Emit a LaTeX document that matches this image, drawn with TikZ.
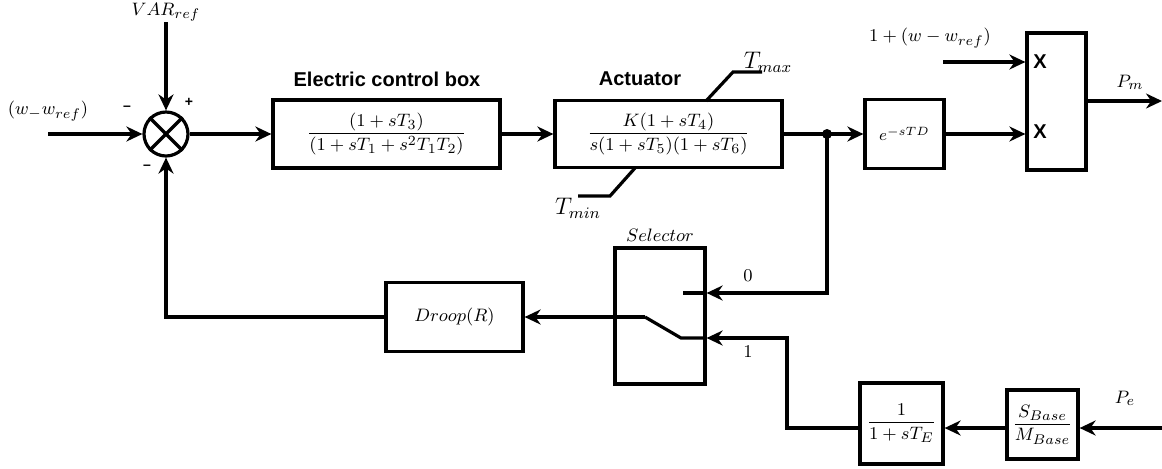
\documentclass[tikz,border=0pt]{standalone}
\usepackage{amsmath}
\usepackage{fontspec}
\setsansfont{Liberation Sans}
\usetikzlibrary{arrows.meta}

\begin{document}
\begin{tikzpicture}[x=0.5pt,y=-0.5pt,line width=1.6pt]
        \tikzset{block/.style = {draw,rectangle,inner sep=0pt,font=\fontsize{9.5}{11}\selectfont}}
        \tikzset{sumnode/.style = {draw,circle,minimum size=22pt,inner sep=0pt}}
        \tikzset{title/.style = {font=\sffamily\bfseries\fontsize{10}{12}\selectfont}}
        \tikzset{sign/.style = {font=\sffamily\bfseries\fontsize{7}{8}\selectfont,inner sep=0pt}}
        \tikzset{lbl/.style = {font=\fontsize{9.5}{11}\selectfont,inner sep=0pt}}
        \tikzset{sig/.style = {-{Stealth[length=8pt,width=7.5pt]}}}
        \useasboundingbox (0,0) rectangle (1162,468);

        % blocks
        \node[sumnode] (sum) at (166,134) {};
        \node[block,minimum width=113.5pt,minimum height=34pt] (ecb) at (386.5,134) {$\dfrac{(1+sT_3)}{(1+sT_1+s^2T_1T_2)}$};
        \node[block,minimum width=113.5pt,minimum height=33.5pt] (act) at (668.5,134) {$\dfrac{K(1+sT_4)}{s(1+sT_5)(1+sT_6)}$};
        \node[block,minimum width=39.5pt,minimum height=34.5pt,font=\fontsize{8}{10}\selectfont] (delay) at (904.5,134) {$e^{-sTD}$};
        \node[block,minimum width=29.5pt,minimum height=68.5pt] (mult) at (1056.5,101.5) {};
        \node[block,minimum width=45pt,minimum height=68pt] (sel) at (660,316) {};
        \node[block,minimum width=68.5pt,minimum height=34.5pt] (droop) at (454.5,317) {$Droop(R)$};
        \node[block,minimum width=41.5pt,minimum height=40.5pt] (te) at (901.5,423.5) {$\dfrac{1}{1+sT_E}$};
        \node[block,minimum width=35.5pt,minimum height=34.5pt] (sbase) at (1042.5,424.5) {$\dfrac{S_{Base}}{M_{Base}}$};
        \draw (sum.north west) -- (sum.south east);
        \draw (sum.north east) -- (sum.south west);

        % labels
        \node[title] (ecbname) at (387,79) {Electric control box};
        \node[title] (actname) at (640,79) {Actuator};
        \node[lbl] (varref) at (166,12) {$VAR_{ref}$};
        \node[lbl] (win) at (48,111) {$(w_-w_{ref})$};
        \node[sign] (sgnw) at (127,108) {--};
        \node[sign] (sgnv) at (189,102) {+};
        \node[sign] (sgnf) at (147,167) {--};
        \node[lbl,font=\fontsize{11.5}{13}\selectfont] (tmax) at (768,62) {$T_{max}$};
        \node[lbl,font=\fontsize{11.5}{13}\selectfont] (tmin) at (578,208) {$T_{min}$};
        \node[lbl] (selname) at (660,235) {$Selector$};
        \node[lbl] (zero) at (748,276) {$0$};
        \node[lbl] (one) at (748,352) {$1$};
        \node[lbl] (wmul) at (930,38) {$1+(w-w_{ref})$};
        \node[lbl] (pmname) at (1130,82) {$P_m$};
        \node[lbl] (pename) at (1125,398) {$P_e$};
        \node[title] (x1) at (1040,62) {X};
        \node[title] (x2) at (1040,132) {X};

        % points
        \coordinate (wstart) at (48,134);
        \coordinate (vstart) at (166,22);
        \coordinate (dot) at (827,134);
        \coordinate (wm) at (943,62);
        \coordinate (pm) at (1162,101);
        \coordinate (pe) at (1162,428);
        \coordinate (s0) at (683,293);
        \coordinate (s1a) at (703,338);
        \coordinate (s1b) at (681,338);
        \coordinate (s1c) at (645,317);
        \coordinate (bend) at (787,338);
        \fill (dot) circle (5);

        % limits
        \draw (706,101) -- (733,72) -- (762,72);
        \draw (635,168) -- (610,196) -- (578,196);

        % connections
        \draw[sig] (wstart) -- (sum.west);
        \draw[sig] (vstart) -- (sum.north);
        \draw[sig] (sum.east) -- (ecb.west);
        \draw[sig] (ecb.east) -- (act.west);
        \draw (act.east) -- (dot);
        \draw[sig] (dot) -- (delay.west);
        \draw[sig] (delay.east) -- (delay.east -| mult.west);
        \draw[sig] (wm) -- (wm -| mult.west);
        \draw[sig] (mult.east |- pm) -- (pm);
        \draw[sig] (dot) |- (sel.east |- s0);
        \draw (s0) -- (sel.east |- s0);
        \draw (s1a) -- (s1b) -- (s1c);
        \draw[sig] (s1c) -- (droop.east);
        \draw[sig] (pe) -- (sbase.east |- pe);
        \draw[sig] (sbase.west |- pe) -- (te.east |- pe);
        \draw[sig] (te.west |- pe) -| (bend) -- (sel.east |- bend);
        \draw[sig] (droop.west) -| (sum.south);
\end{tikzpicture}
\end{document}
